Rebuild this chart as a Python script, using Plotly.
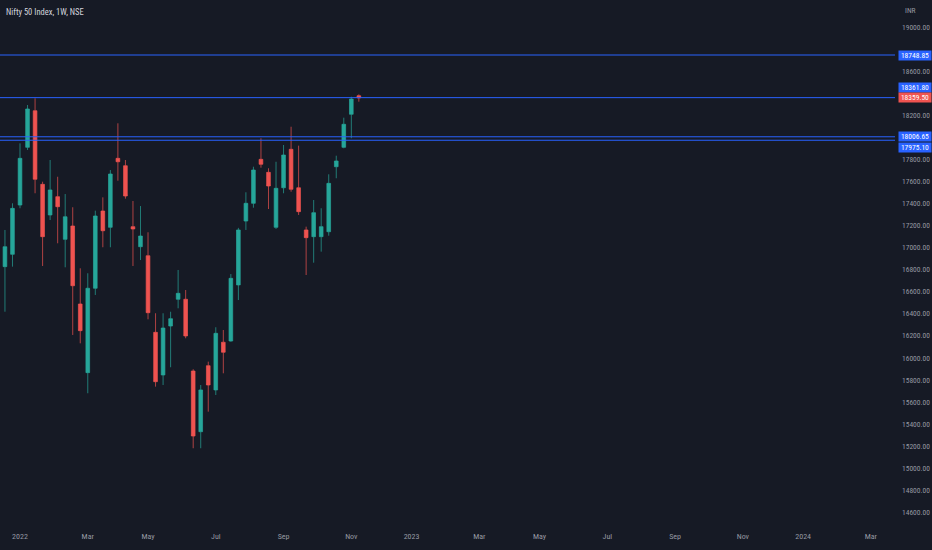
import pandas as pd
import plotly.graph_objects as go

# weekly candles, NIFTY 50 (week starting Monday)
first_week = "2021-12-13"
opens = [17300, 16828, 16940, 17387, 17911, 18243, 17575, 17297, 17463, 17076,
         17197, 16489, 15866, 16632, 17333, 17185, 17811, 17744, 17191, 17009,
         16927, 16232, 15845, 16289, 16532, 16532, 15881, 15330, 15929, 15709,
         16142, 16153, 16662, 17242, 17403, 17802, 17684, 17185, 17544, 17893,
         17544, 17161, 17100, 17100, 17145, 17735, 17911, 18211, 18379]
highs = [17630, 17161, 17403, 17947, 18295, 18356, 17599, 17796, 17644, 17487,
         17367, 16813, 16768, 17336, 17457, 17705, 18129, 17796, 17424, 17378,
         17140, 16405, 16405, 16419, 16798, 16616, 15897, 15754, 15966, 16278,
         16253, 16761, 17180, 17503, 17735, 17993, 17721, 17780, 17932, 18098,
         17926, 17191, 17433, 17358, 17666, 17835, 18180, 18370, 18392]
lows = [16960, 16419, 16828, 17358, 17887, 17494, 16834, 17251, 17040, 16822,
        16208, 16132, 15679, 16571, 17004, 17004, 17608, 17445, 16834, 16888,
        16350, 15739, 15754, 15915, 16450, 16178, 15180, 15180, 15512, 15663,
        15860, 16147, 16525, 17161, 17363, 17726, 17351, 17170, 17494, 17508,
        17297, 16752, 16864, 16964, 17109, 17630, 17902, 17993, 18325]
closes = [16990, 17009, 17357, 17811, 18259, 17621, 17100, 17524, 17372, 17281,
          16655, 16247, 16632, 17288, 17154, 17669, 17780, 17469, 17170, 17106,
          16410, 15784, 16271, 16356, 16586, 16199, 15291, 15709, 15754, 16223,
          16051, 16722, 17161, 17403, 17705, 17757, 17560, 17539, 17841, 17530,
          17327, 17091, 17318, 17191, 17584, 17787, 18120, 18349, 18359.50]

levels = [18748.85, 18361.80, 18006.65, 17975.10]
level_shift = [0, 10, 0, -7]
last_price = 18359.50

tick_dates = ["2022-01-03", "2022-03-07", "2022-05-02", "2022-07-04", "2022-09-05",
              "2022-11-07", "2023-01-02", "2023-03-06", "2023-05-01", "2023-07-03",
              "2023-09-04", "2023-11-06", "2024-01-01", "2024-03-04"]
tick_labels = ["2022", "Mar", "May", "Jul", "Sep", "Nov", "2023", "Mar", "May",
               "Jul", "Sep", "Nov", "2024", "Mar"]
# 18400 and 18000 sit under the price boxes, so the scale leaves them out
price_ticks = [14600, 14800, 15000, 15200, 15400, 15600, 15800, 16000, 16200,
               16400, 16600, 16800, 17000, 17200, 17400, 17600, 17800, 18200,
               18600, 19000]

BG = "#161a25"
UP = "#26a69a"
DOWN = "#ef5350"
BLUE = "#2962ff"
TXT = "#9598a1"
FONT = "Liberation Sans Narrow, Roboto Condensed, Roboto, sans-serif"

weeks = pd.date_range(first_week, periods=len(opens), freq="W-MON")

fig = go.Figure()
fig.add_trace(go.Candlestick(
    x=weeks, open=opens, high=highs, low=lows, close=closes,
    increasing=dict(line=dict(color=UP, width=0.7), fillcolor=UP),
    decreasing=dict(line=dict(color=DOWN, width=0.7), fillcolor=DOWN),
    hoverinfo="skip", showlegend=False,
))

for lv, sh in zip(levels, level_shift):
    fig.add_shape(type="line", xref="paper", x0=0, x1=1, yref="y", y0=lv, y1=lv,
                  line=dict(color=BLUE, width=1))
    fig.add_annotation(xref="paper", x=1, xanchor="left", xshift=3, y=lv, yref="y",
                       yshift=sh, text=f"{lv:.2f}", showarrow=False, bgcolor=BLUE,
                       width=31, height=8, borderpad=0.5,
                       font=dict(color="white", size=7.5, family=FONT))

fig.add_annotation(xref="paper", x=1, xanchor="left", xshift=3, y=last_price, yref="y",
                   text=f"{last_price:.2f}", showarrow=False, bgcolor=DOWN,
                   width=31, height=8, borderpad=0.5,
                   font=dict(color="white", size=7.5, family=FONT))

fig.add_annotation(xref="paper", yref="paper", x=0, y=1, xanchor="left", yanchor="top",
                   xshift=4, yshift=-5, text="Nifty 50 Index, 1W, NSE", showarrow=False,
                   font=dict(color="#d1d4dc", size=8.5, family=FONT))
fig.add_annotation(xref="paper", yref="paper", x=1, y=1, xanchor="left", yanchor="top",
                   xshift=8, yshift=-4, text="INR", showarrow=False,
                   font=dict(color=TXT, size=7.5, family=FONT))

fig.update_layout(
    width=932, height=550,
    margin=dict(l=0, r=37, t=0, b=20),
    paper_bgcolor=BG, plot_bgcolor=BG,
    font=dict(family=FONT, color=TXT, size=8),
    hovermode=False,
    xaxis=dict(
        type="date", rangeslider=dict(visible=False),
        range=["2021-12-15 09:36", "2024-03-26 10:00"],
        tickvals=tick_dates, ticktext=tick_labels,
        showgrid=False, zeroline=False, showline=False, ticks="",
        tickfont=dict(size=8, color=TXT),
    ),
    yaxis=dict(
        side="right", range=[14438, 19248],
        tickvals=price_ticks, tickformat=".2f",
        showgrid=False, zeroline=False, showline=False, ticks="",
        ticklabelstandoff=6, tickfont=dict(size=7.5, color=TXT),
    ),
)

fig.write_html("out.html", config={"displayModeBar": False},
               post_script="document.body.style.margin='0';"
               "document.body.style.background='" + BG + "';")
